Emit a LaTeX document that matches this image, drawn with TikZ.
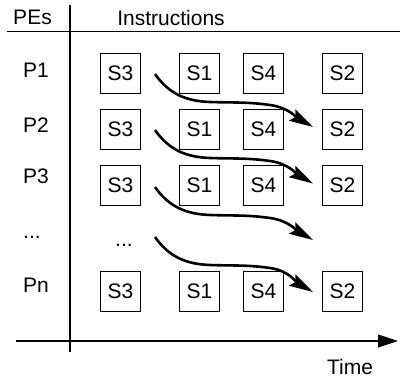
\documentclass[tikz,border=0pt]{standalone}
\usepackage{fontspec}
\setmainfont{Liberation Sans}
\usetikzlibrary{arrows.meta,calc}
\begin{document}
\begin{tikzpicture}[x=1pt,y=1pt,
  lbl/.style={font=\fontsize{21}{24}\selectfont, inner sep=0pt},
  sbox/.style={draw, line width=1pt, minimum width=40pt, minimum height=40pt, inner sep=0pt, font=\fontsize{21}{24}\selectfont},
  flow/.style={line width=2.6pt, -{Stealth[length=24pt,width=13pt,inset=4pt]}},
  axisline/.style={line width=1.2pt}]
\useasboundingbox (0,0) rectangle (400,-380);
% headers
\node[lbl] (hpe) at (32.5,-17) {PEs};
\node[lbl] (hins) at (171,-18) {Instructions};
\node[lbl] (htime) at (350,-367) {Time};
% row labels
\node[lbl] (p1) at (36,-70) {P1};
\node[lbl] (p2) at (36,-125) {P2};
\node[lbl] (p3) at (36,-176) {P3};
\node[lbl] (pd) at (32,-237) {...};
\node[lbl] (pn) at (36,-285) {Pn};
% axes
\draw[axisline] (7,-31.5) -- (400,-31.5);
\draw[axisline] (70,-5) -- (70,-352);
\draw[axisline,-{Triangle[length=20pt,width=13pt]}] (16,-341) -- (398,-341);
% boxes
\foreach \r/\y in {1/-73,2/-129,3/-185.5,n/-291}{
  \node[sbox] (s3r\r) at (120.5,\y) {S3};
  \node[sbox] (s1r\r) at (199.5,\y) {S1};
  \node[sbox] (s4r\r) at (263.5,\y) {S4};
  \node[sbox] (s2r\r) at (342.5,\y) {S2};
}
\node[lbl] (idots) at (124,-245) {...};
% flow arrows
\coordinate (a1) at (155,-74);
\coordinate (a2) at (155,-130);
\coordinate (a3) at (155,-187);
\coordinate (a4) at (155,-237);
\coordinate (e3) at (313,-240);
\draw[flow] (a1) to[out=-55,in=178] ++(55,-28) to[out=-2,in=172] ++(60,-3) to[out=-8,in=150] ([xshift=-9pt,yshift=2pt]s2r2.west);
\draw[flow] (a2) to[out=-55,in=178] ++(55,-28) to[out=-2,in=172] ++(60,-3) to[out=-8,in=150] ([xshift=-9pt,yshift=2pt]s2r3.west);
\draw[flow] (a3) to[out=-55,in=178] ++(55,-28) to[out=-2,in=172] ++(60,-3) to[out=-8,in=150] (e3);
\draw[flow] (a4) to[out=-55,in=178] ++(55,-28) to[out=-2,in=172] ++(60,-3) to[out=-8,in=150] ([xshift=-9pt,yshift=-1pt]s2rn.west);
\end{tikzpicture}
\end{document}
